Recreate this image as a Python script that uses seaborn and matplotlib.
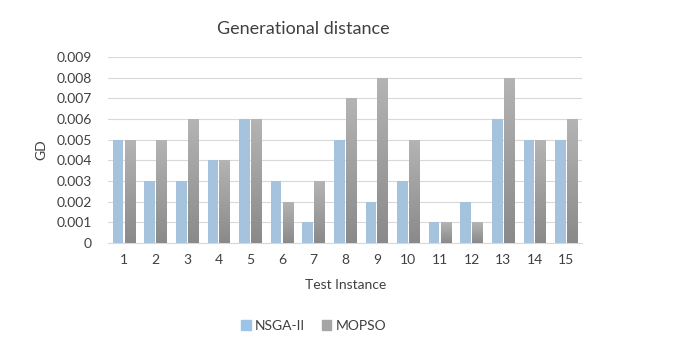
import numpy as np
import pandas as pd
import matplotlib
matplotlib.use("Agg")
import matplotlib.pyplot as plt
import matplotlib.ticker as mticker
from matplotlib.colors import LinearSegmentedColormap
import seaborn as sns

# Datos
instancias = list(range(1, 16))
gd_nsga2 = [0.005, 0.003, 0.003, 0.004, 0.006, 0.003, 0.001, 0.005, 0.002, 0.003, 0.001, 0.002, 0.006, 0.005, 0.005]
gd_mopso = [0.005, 0.005, 0.006, 0.004, 0.006, 0.002, 0.003, 0.007, 0.008, 0.005, 0.001, 0.001, 0.008, 0.005, 0.006]
metodos = ["NSGA-II", "MOPSO"]
y_ticks = [0, 0.001, 0.002, 0.003, 0.004, 0.005, 0.006, 0.007, 0.008, 0.009]

COLOR_AZUL = "#9DC3E6"
COLOR_GRIS = "#A5A5A5"
COLOR_TEXTO = "#404040"

df = pd.DataFrame({
    "Test Instance": [str(i) for i in instancias] * 2,
    "GD": gd_nsga2 + gd_mopso,
    "Metodo": [metodos[0]] * len(instancias) + [metodos[1]] * len(instancias),
})

sns.set_style("white")
plt.rcParams["font.family"] = ["Lato", "DejaVu Sans"]

fig = plt.figure(figsize=(6.89, 3.59), dpi=100)
ax = fig.add_axes([0.157, 0.323, 0.688, 0.518])

sns.barplot(data=df, x="Test Instance", y="GD", hue="Metodo", ax=ax,
            palette=[COLOR_AZUL, COLOR_GRIS], width=0.74, gap=0.1,
            linewidth=0, legend=False, zorder=3)

# Degradado en las barras grises (como Excel)
cmap = LinearSegmentedColormap.from_list("gris", ["#8A8A8A", "#B4B4B4"])
grad = np.linspace(0, 1, 100).reshape(-1, 1)
n = len(instancias)
for p in ax.patches[n:2 * n]:
    x0, y0 = p.get_x(), p.get_y()
    w, h = p.get_width(), p.get_height()
    if h <= 0:
        continue
    im = ax.imshow(grad, cmap=cmap, aspect="auto", origin="lower",
                   extent=(x0, x0 + w, y0, y0 + h), zorder=4)
    im.set_clip_path(p)

ax.set_xlim(-0.5, n - 0.5)
ax.set_ylim(0, 0.009)
ax.set_yticks(y_ticks)
ax.yaxis.set_major_formatter(mticker.FuncFormatter(lambda v, _: "0" if v == 0 else f"{v:.3f}"))
ax.grid(True, axis="y", color="#D9D9D9", linewidth=0.8, zorder=0)
ax.set_axisbelow(True)
for s in ["top", "right", "left"]:
    ax.spines[s].set_visible(False)
ax.spines["bottom"].set_color("#D9D9D9")
ax.tick_params(axis="both", length=0, labelsize=10, colors=COLOR_TEXTO, pad=8)
ax.tick_params(axis="y", pad=12)

ax.set_xlabel("Test Instance", fontsize=10, color=COLOR_TEXTO, labelpad=9)
ax.set_ylabel("GD", fontsize=10, color=COLOR_TEXTO, labelpad=6)

fig.text(0.44, 0.92, "Generational distance", ha="center", va="center",
         fontsize=13, color=COLOR_TEXTO)

handles = [plt.Rectangle((0, 0), 1, 1, color=COLOR_AZUL),
           plt.Rectangle((0, 0), 1, 1, color=COLOR_GRIS)]
fig.legend(handles, metodos, loc="center", bbox_to_anchor=(0.455, 0.092), ncol=2,
           frameon=False, fontsize=10, handlelength=0.7, handleheight=0.7,
           handletextpad=0.3, columnspacing=1.2, labelcolor=COLOR_TEXTO)

fig.savefig("out.png", dpi=100)
